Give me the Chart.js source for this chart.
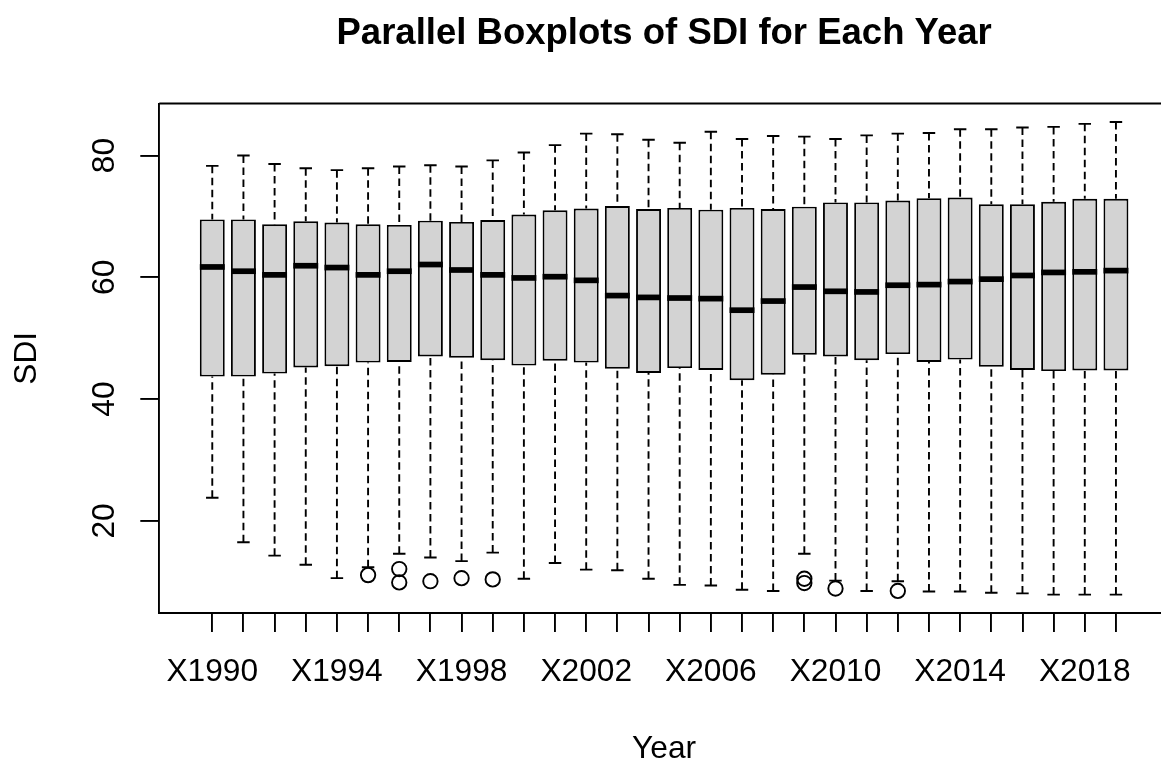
<!DOCTYPE html>
<html>
<head>
<meta charset="utf-8">
<script src="https://cdn.jsdelivr.net/npm/chart.js@4.4.0/dist/chart.umd.min.js"></script>
<style>
html,body{margin:0;padding:0;overflow:hidden;background:#ffffff;}
#wrap{width:1161px;height:763px;}
</style>
</head>
<body>
<div id="wrap"><canvas id="c" width="1161" height="763"></canvas></div>
<script>
// ---- data ----
const yearLabels = ['X1990','X1991','X1992','X1993','X1994','X1995','X1996','X1997','X1998','X1999',
                    'X2000','X2001','X2002','X2003','X2004','X2005','X2006','X2007','X2008','X2009',
                    'X2010','X2011','X2012','X2013','X2014','X2015','X2016','X2017','X2018','X2019'];
const shownLabels = ['X1990','X1994','X1998','X2002','X2006','X2010','X2014','X2018'];
const upperWhisker = [78.3, 80.0, 78.6, 77.9, 77.6, 77.9, 78.2, 78.4, 78.2, 79.2,
                      80.5, 81.7, 83.6, 83.5, 82.6, 82.1, 83.9, 82.7, 83.2, 83.1,
                      82.7, 83.3, 83.6, 83.7, 84.3, 84.3, 84.6, 84.7, 85.2, 85.5];
const q3 = [69.5, 69.5, 68.7, 69.2, 69.0, 68.7, 68.6, 69.3, 69.1, 69.4,
            70.3, 71.0, 71.3, 71.7, 71.2, 71.4, 71.1, 71.4, 71.2, 71.6,
            72.3, 72.3, 72.6, 73.0, 73.1, 72.0, 72.0, 72.4, 72.9, 72.9];
const medians = [61.7, 61.0, 60.4, 61.9, 61.6, 60.4, 61.0, 62.1, 61.2, 60.4,
                 59.9, 60.1, 59.5, 57.0, 56.7, 56.6, 56.5, 54.6, 56.1, 58.4,
                 57.7, 57.6, 58.7, 58.8, 59.3, 59.7, 60.3, 60.8, 60.9, 61.1];
const q1 = [43.7, 43.7, 44.2, 45.2, 45.4, 46.0, 46.1, 47.0, 46.8, 46.4,
            45.5, 46.3, 46.0, 45.0, 44.3, 45.1, 44.8, 43.1, 44.0, 47.3,
            47.0, 46.4, 47.4, 46.1, 46.5, 45.3, 44.8, 44.6, 44.7, 44.7];
const lowerWhisker = [23.8, 16.5, 14.3, 12.8, 10.6, 12.4, 14.6, 14.0, 13.4, 14.8,
                      10.5, 13.1, 12.0, 11.9, 10.5, 9.5, 9.4, 8.7, 8.5, 14.6,
                      10.2, 8.5, 10.1, 8.4, 8.4, 8.2, 8.1, 7.9, 7.9, 7.9];
const outlierYear = ['X1995','X1996','X1996','X1997','X1998','X1999','X2009','X2009','X2010','X2012'];
const outlierValue = [11.1, 12.1, 9.9, 10.1, 10.6, 10.4, 10.5, 9.8, 8.9, 8.5];
const yTickValues = [20, 40, 60, 80];

const chartTitle = 'Parallel Boxplots of SDI for Each Year';
const xTitle = 'Year';
const yTitle = 'SDI';

// ---- build library data from the arrays ----
const pos = lbl => yearLabels.indexOf(lbl) + 1;
const boxData = yearLabels.map((lbl, i) => ({ x: pos(lbl), y: [q1[i], q3[i]] }));
const outlierData = outlierYear.map((lbl, i) => ({ x: pos(lbl), y: outlierValue[i] }));

const FONT = '"Liberation Sans", Arial, Helvetica, sans-serif';
const LW = 1.9;

const boxParts = {
  id: 'boxParts',
  beforeDatasetsDraw(chart) {
    const ctx = chart.ctx, y = chart.scales.y;
    const meta = chart.getDatasetMeta(0);
    ctx.save();
    ctx.strokeStyle = '#000';
    ctx.lineWidth = LW;
    meta.data.forEach((bar, i) => {
      const cx = bar.x, w = bar.width;
      const yUp = y.getPixelForValue(upperWhisker[i]);
      const yQ3 = y.getPixelForValue(q3[i]);
      const yQ1 = y.getPixelForValue(q1[i]);
      const yLo = y.getPixelForValue(lowerWhisker[i]);
      ctx.setLineDash([7.5, 4.5]);
      ctx.beginPath(); ctx.moveTo(cx, yUp); ctx.lineTo(cx, yQ3); ctx.stroke();
      ctx.beginPath(); ctx.moveTo(cx, yLo); ctx.lineTo(cx, yQ1); ctx.stroke();
      ctx.setLineDash([]);
      ctx.beginPath();
      ctx.moveTo(cx - w / 4, yUp); ctx.lineTo(cx + w / 4, yUp);
      ctx.moveTo(cx - w / 4, yLo); ctx.lineTo(cx + w / 4, yLo);
      ctx.stroke();
    });
    ctx.restore();
  },
  afterDatasetsDraw(chart) {
    const ctx = chart.ctx, y = chart.scales.y;
    const meta = chart.getDatasetMeta(0);
    ctx.save();
    ctx.strokeStyle = '#000';
    ctx.lineWidth = 5.7;
    ctx.lineCap = 'butt';
    meta.data.forEach((bar, i) => {
      const cx = bar.x, w = bar.width;
      const ym = y.getPixelForValue(medians[i]);
      ctx.beginPath(); ctx.moveTo(cx - w / 2, ym); ctx.lineTo(cx + w / 2, ym); ctx.stroke();
    });
    ctx.restore();
  },
  afterDraw(chart) {
    const ctx = chart.ctx, area = chart.chartArea, y = chart.scales.y, x = chart.scales.x;
    ctx.save();
    ctx.strokeStyle = '#000';
    ctx.lineWidth = LW;
    ctx.beginPath(); ctx.moveTo(area.left, area.top); ctx.lineTo(chart.width, area.top); ctx.stroke();
    ctx.fillStyle = '#000';
    // centre of the full plotting frame (R range 0.5 .. 30.5 widened by 4%)
    const cx = (x.getPixelForValue(-0.7) + x.getPixelForValue(31.7)) / 2;
    ctx.font = 'bold 36.5px ' + FONT;
    ctx.textAlign = 'center';
    ctx.textBaseline = 'alphabetic';
    ctx.fillText(chartTitle, cx, 44);
    ctx.font = '31.7px ' + FONT;
    ctx.fillText(xTitle, cx, 758);
    yTickValues.forEach(v => {
      ctx.save();
      ctx.translate(113.5, y.getPixelForValue(v));
      ctx.rotate(-Math.PI / 2);
      ctx.fillText(String(v), 0, 0);
      ctx.restore();
    });
    ctx.save();
    ctx.translate(36, (area.top + area.bottom) / 2);
    ctx.rotate(-Math.PI / 2);
    ctx.fillText(yTitle, 0, 0);
    ctx.restore();
    ctx.restore();
  }
};

new Chart(document.getElementById('c'), {
  type: 'bar',
  data: {
    datasets: [
      {
        type: 'bar',
        data: boxData,
        backgroundColor: '#d3d3d3',
        borderColor: '#000000',
        borderWidth: LW,
        borderSkipped: false,
        barPercentage: 0.8,
        categoryPercentage: 1.0
      },
      {
        type: 'scatter',
        data: outlierData,
        showLine: false,
        pointStyle: 'circle',
        pointRadius: 7.2,
        pointBorderWidth: LW,
        pointBorderColor: '#000000',
        pointBackgroundColor: 'rgba(0,0,0,0)'
      }
    ]
  },
  options: {
    responsive: false,
    animation: false,
    devicePixelRatio: 1,
    layout: { autoPadding: false, padding: { top: 103.5, right: 0, left: 0, bottom: 0 } },
    plugins: { legend: { display: false }, tooltip: { enabled: false }, title: { display: false } },
    scales: {
      x: {
        type: 'linear',
        offset: false,
        min: -0.7,
        max: 31.446,
        afterBuildTicks: s => { s.ticks = yearLabels.map(l => ({ value: pos(l) })); },
        afterFit: s => { s.height = 150; },
        grid: { offset: false, drawOnChartArea: false, drawTicks: true, tickLength: 19, color: '#000', lineWidth: LW },
        border: { display: true, color: '#000', width: LW },
        ticks: {
          autoSkip: false,
          maxRotation: 0,
          minRotation: 0,
          padding: 21,
          color: '#000',
          font: { family: FONT, size: 31.7 },
          callback: v => { const l = yearLabels[Math.round(v) - 1]; return shownLabels.includes(l) ? l : ''; }
        }
      },
      y: {
        type: 'linear',
        offset: false,
        min: 4.88,
        max: 88.54,
        afterBuildTicks: s => { s.ticks = yTickValues.map(v => ({ value: v })); },
        afterFit: s => { s.width = 159.3; },
        grid: { offset: false, drawOnChartArea: false, drawTicks: true, tickLength: 19, color: '#000', lineWidth: LW },
        border: { display: true, color: '#000', width: LW },
        ticks: { display: false }
      }
    }
  },
  plugins: [boxParts]
});
</script>
</body>
</html>
